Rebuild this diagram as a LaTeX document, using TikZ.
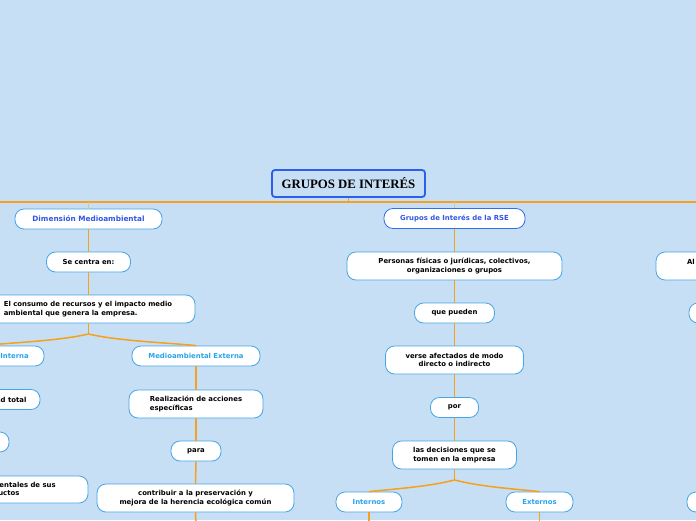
\documentclass[tikz,border=0pt]{standalone}
\usepackage{fontspec}
\setmainfont{DejaVu Sans}
\newfontfamily\rootfont{Liberation Serif}
\definecolor{bg}{RGB}{198,223,245}
\definecolor{lnk}{RGB}{247,160,30}
\definecolor{nodeb}{RGB}{70,165,230}
\definecolor{dblue}{RGB}{50,85,230}
\definecolor{lblue}{RGB}{40,165,230}
\definecolor{rootb}{RGB}{45,95,235}
\begin{document}
\begin{tikzpicture}[x=1pt,y=-1pt,
  box/.style={draw=nodeb, fill=white, line width=0.8pt, rounded corners=9pt,
    inner sep=0pt, font=\fontsize{6.9}{8.6}\selectfont\bfseries, text=black, align=center},
  onel/.style={minimum height=20pt},
  twol/.style={minimum height=28pt},
  link/.style={draw=lnk, line width=1.5pt},
  faint/.style={draw=lnk!45!bg, line width=1.5pt},
  rootbox/.style={draw=rootb, fill=bg, line width=1.8pt, rounded corners=3pt,
    inner sep=0pt, font=\rootfont\fontsize{12.8}{14}\selectfont\bfseries}]
\useasboundingbox (0,0) rectangle (696,520);
\clip (0,0) rectangle (696,520);
\fill[bg] (0,0) rectangle (696,520);

% root and main line
\coordinate (hl) at (0,202);
\coordinate (hr) at (696,202);
\coordinate (hub) at (348.5,202);
\coordinate (hd) at (88.5,202);
\coordinate (hg) at (454.5,202);
\draw[link] (hl) -- (hr);
\node[rootbox, minimum width=153pt, minimum height=27pt] (root) at (348.5,183.5) {GRUPOS DE INTERÉS};
\draw[link] (root.south) -- (hub);

% left branch
\node[box, onel, text=dblue, minimum width=147pt, font=\fontsize{7.3}{8.6}\selectfont\bfseries] (dim) at (88.5,219) {Dimensión Medioambiental};
\node[box, onel, minimum width=84pt] (centra) at (88.5,262) {Se centra en:};
\node[box, twol, minimum width=214pt, align=left] (consumo) at (88,309) {El consumo de recursos y el impacto medio\\ambiental que genera la empresa.};
\node[box, onel, text=lblue, minimum width=124pt] (interna) at (-18,356) {Medioambiental Interna};
\node[box, onel, text=lblue, minimum width=128pt] (externa) at (196,356) {Medioambiental Externa};
\node[box, twol, minimum width=134pt, align=left] (realiz) at (196,404) {Realización de acciones\\específicas};
\node[box, onel, minimum width=50pt] (para) at (196,451) {para};
\node[box, twol, minimum width=197pt] (contrib) at (195.5,498) {contribuir a la preservación y\\mejora de la herencia ecológica común};
\coordinate (cb) at (196,525);

\node[box, onel, minimum width=77pt] (calidad) at (1.5,399.5) {Calidad total};
\node[box, onel, minimum width=54pt] (n3) at (-18,442) {};
\node[box, twol, minimum width=140pt, minimum height=27pt, align=left] (n4) at (18,489.5) {ambientales de sus\\productos};

\draw[faint] (hd) -- (dim.north);
\draw[link] (dim.south) -- (centra.north);
\draw[link] (centra.south) -- (centra.south |- consumo.north);
\coordinate (s1) at (88.5,334);
\draw[link] (centra.south |- consumo.south) -- (s1);
\draw[link] (s1) .. controls +(30,7) and +(-30,-3) .. (externa.north);
\draw[link] (s1) .. controls +(-30,7) and +(30,-3) .. (interna.north);
\draw[link] (externa.south) -- (realiz.north);
\draw[link] (realiz.south) -- (para.north);
\draw[link] (para.south) -- (contrib.north);
\draw[link] (contrib.south) -- (cb);
\draw[link] (interna.south) -- (interna.south |- calidad.north);
\draw[link] (interna.south |- calidad.south) -- (n3.north);
\draw[link] (n3.south) -- (n3.south |- n4.north);

% middle branch
\node[box, onel, draw=rootb!80!nodeb, text=dblue, minimum width=141pt] (rse) at (454.5,218.5) {Grupos de Interés de la RSE};
\node[box, twol, minimum width=215pt] (personas) at (454.5,266) {Personas físicas o jurídicas, colectivos,\\organizaciones o grupos};
\node[box, onel, minimum width=80pt] (pueden) at (454.5,313) {que pueden};
\node[box, twol, minimum width=138pt] (verse) at (454.5,360) {verse afectados de modo\\directo o indirecto};
\node[box, onel, minimum width=48pt] (por) at (454.5,407.5) {por};
\node[box, twol, minimum width=124pt] (decis) at (454.5,455) {las decisiones que se\\tomen en la empresa};
\node[box, onel, text=lblue, minimum width=66pt] (internos) at (369,502) {Internos};
\node[box, onel, text=lblue, minimum width=67pt] (externos) at (539.5,502) {Externos};
\coordinate (s2) at (454.5,480);
\coordinate (ib) at (369,525);
\coordinate (eb) at (539.5,525);

\draw[faint] (hg) -- (rse.north);
\draw[link] (rse.south) -- (personas.north);
\draw[link] (personas.south) -- (pueden.north);
\draw[link] (pueden.south) -- (verse.north);
\draw[link] (verse.south) -- (por.north);
\draw[link] (por.south) -- (decis.north);
\draw[link] (decis.south) -- (s2);
\draw[link] (s2) .. controls +(-28,7) and +(28,-3) .. (internos.north);
\draw[link] (s2) .. controls +(28,7) and +(-28,-3) .. (externos.north);
\draw[link] (internos.south) -- (ib);
\draw[link] (externos.south) -- (eb);

% right branch (mostly outside)
\node[box, twol, minimum width=208pt, align=left, text width=146pt] (al) at (760,266) {Al\\\mbox{}};
\node[box, onel, minimum width=142pt] (r2) at (760,313) {};
\node[box, onel, minimum width=146pt] (r3) at (760,502) {};
\draw[link] (al.south) -- (r2.north);
\end{tikzpicture}
\end{document}
